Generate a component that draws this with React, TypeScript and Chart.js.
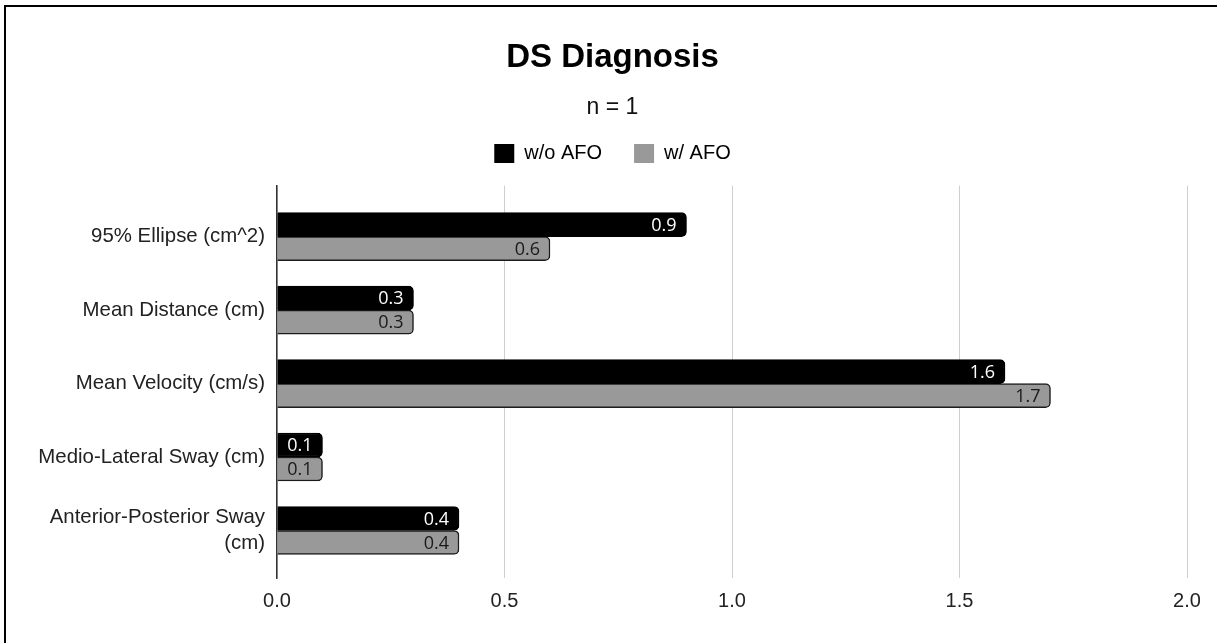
import React, { useEffect, useRef } from 'react';
import { Chart, registerables } from 'chart.js';

Chart.register(...registerables);

// Balance measures, one bar pair per measure
const categories = [
  '95% Ellipse (cm^2)',
  'Mean Distance (cm)',
  'Mean Velocity (cm/s)',
  'Medio-Lateral Sway (cm)',
  'Anterior-Posterior Sway (cm)',
];
const withoutAfo = [0.9, 0.3, 1.6, 0.1, 0.4];
const withAfo = [0.6, 0.3, 1.7, 0.1, 0.4];
const seriesNames = ['w/o AFO', 'w/ AFO'];
const xTicks = [0, 0.5, 1.0, 1.5, 2.0];

const FONT = '"Liberation Sans", Arial, sans-serif';

// Long category names are broken at the last space before the limit.
function wrapLabel(s: string, max = 25): string | string[] {
  if (!s || s.length <= max) return s;
  const cut = s.lastIndexOf(' ', max);
  return cut > 0 ? [s.slice(0, cut), s.slice(cut + 1)] : s;
}

// Writes each bar's value just inside its right end.
const valueLabels = {
  id: 'valueLabels',
  afterDatasetsDraw(chart: any) {
    const ctx = chart.ctx;
    ctx.save();
    ctx.font = '18px "Open Sans", sans-serif';
    ctx.textAlign = 'right';
    ctx.textBaseline = 'middle';
    chart.data.datasets.forEach((ds: any, di: number) => {
      const meta = chart.getDatasetMeta(di);
      meta.data.forEach((bar: any, i: number) => {
        const v = ds.data[i].x;
        ctx.fillStyle = ds.labelColor;
        ctx.fillText(Number(v).toFixed(1), bar.x - 10, bar.y + 1);
      });
    });
    ctx.restore();
  },
};

export default function App() {
  const canvasRef = useRef<HTMLCanvasElement | null>(null);

  useEffect(() => {
    const canvas = canvasRef.current;
    if (!canvas) return;

    const toPoints = (arr: number[]) => arr.map((v, i) => ({ x: v, y: i }));

    const chart = new Chart(canvas, {
      type: 'bar',
      data: {
        datasets: [
          {
            label: seriesNames[0],
            data: toPoints(withoutAfo),
            backgroundColor: '#000000',
            borderColor: '#000000',
            borderWidth: 1.5,
            borderRadius: 5,
            barThickness: 24,
            xAxisID: 'x',
            yAxisID: 'y',
            labelColor: '#ffffff',
          } as any,
          {
            label: seriesNames[1],
            data: toPoints(withAfo),
            backgroundColor: '#999999',
            borderColor: '#1c1c1c',
            borderWidth: 1.5,
            borderRadius: 5,
            barThickness: 24,
            xAxisID: 'x',
            yAxisID: 'y',
            labelColor: '#1a1a1a',
          } as any,
        ],
      },
      options: {
        indexAxis: 'y',
        responsive: false,
        animation: false,
        events: [],
        layout: { padding: { left: 34, right: 34, top: 0, bottom: 19 } },
        scales: {
          x: {
            type: 'linear',
            position: 'bottom',
            min: 0,
            max: 2,
            afterBuildTicks: (s: any) => {
              s.ticks = xTicks.map((v) => ({ value: v }));
            },
            ticks: {
              callback: (v: any) => Number(v).toFixed(1),
              padding: 11,
              color: '#222222',
              font: { family: FONT, size: 20 },
            },
            grid: { color: '#cfcfcf', lineWidth: 1, drawTicks: false },
            border: { display: false },
          },
          gap: {
            type: 'linear',
            position: 'top',
            axis: 'x',
            display: true,
            ticks: { display: false },
            grid: { display: false, drawTicks: false },
            border: { display: false },
            afterFit: (s: any) => {
              s.height = 12;
            },
          },
          y: {
            type: 'linear',
            min: -0.695,
            max: 4.647,
            reverse: true,
            offset: false,
            afterBuildTicks: (s: any) => {
              s.ticks = categories.map((_, i) => ({ value: i }));
            },
            afterFit: (s: any) => {
              s.width = 239;
            },
            ticks: {
              autoSkip: false,
              padding: 12,
              color: '#222222',
              font: { family: FONT, size: 20.4, lineHeight: 1.28 },
              callback: (v: any) => wrapLabel(categories[Number(v)]),
            },
            grid: { display: false, drawTicks: false, offset: false },
            border: { display: true, color: '#333333', width: 1.5 },
          },
        } as any,
        plugins: {
          title: {
            display: true,
            text: 'DS Diagnosis',
            color: '#000000',
            font: { family: FONT, size: 33, weight: 'bold', lineHeight: 1.2 },
            padding: { top: 38, bottom: 17 },
          },
          subtitle: {
            display: true,
            text: 'n = 1',
            color: '#111111',
            font: { family: FONT, size: 23, lineHeight: 1.0 },
            padding: { top: 2, bottom: -8 },
          },
          legend: {
            display: true,
            position: 'top',
            labels: {
              boxWidth: 20,
              boxHeight: 19,
              padding: 32,
              color: '#222222',
              font: { family: FONT, size: 20 },
              generateLabels: (c: any) =>
                c.data.datasets.map((ds: any, i: number) => ({
                  text: ds.label,
                  fillStyle: ds.backgroundColor,
                  strokeStyle: ds.backgroundColor,
                  lineWidth: 0,
                  hidden: false,
                  datasetIndex: i,
                })),
            },
          },
          tooltip: { enabled: false },
        },
      } as any,
      plugins: [valueLabels],
    });

    return () => chart.destroy();
  }, []);

  return (
    <>
      <div
        style={{
          position: 'fixed',
          left: 4,
          top: 5,
          width: 1300,
          height: 700,
          border: '2px solid #000',
          boxSizing: 'border-box',
          pointerEvents: 'none',
        }}
      />
      <canvas
        ref={canvasRef}
        width={1217}
        height={643}
        style={{ position: 'fixed', left: 4, top: 0, width: 1217, height: 643 }}
      />
    </>
  );
}
